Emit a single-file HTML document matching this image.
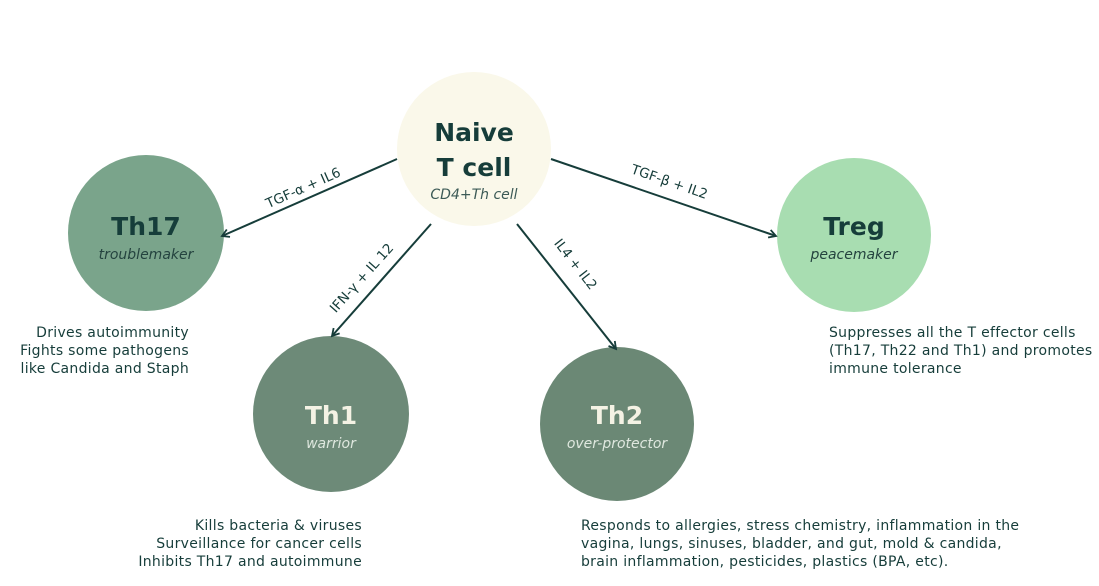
<!DOCTYPE html>
<html><head><meta charset="utf-8"><style>
body{margin:0;background:#fff;}
svg{display:block;font-family:"DejaVu Sans","Liberation Sans",sans-serif;}
</style></head><body>
<svg width="1099" height="586" viewBox="0 0 1099 586" xmlns="http://www.w3.org/2000/svg">
<defs><marker id="a" markerWidth="10" markerHeight="10" refX="8" refY="5" orient="auto" markerUnits="userSpaceOnUse"><path d="M1,1 L8,5 L1,9" fill="none" stroke="#163d3a" stroke-width="1.8"/></marker></defs>
<circle cx="474" cy="149" r="77" fill="#faf8ea"/>
<circle cx="146" cy="233" r="78" fill="#7aa48b"/>
<circle cx="331" cy="414" r="78" fill="#6d8a78"/>
<circle cx="617" cy="424" r="77" fill="#6b8875"/>
<circle cx="854" cy="235" r="77" fill="#a8ddb1"/>
<g stroke="#163d3a" stroke-width="2" fill="none" marker-end="url(#a)">
<line x1="397" y1="159" x2="222" y2="236"/>
<line x1="431" y1="224" x2="332" y2="336"/>
<line x1="517" y1="224" x2="616" y2="349"/>
<line x1="551" y1="159" x2="776" y2="236"/>
</g>
<g fill="#163d3a" font-size="13.5">
<text transform="translate(305,192) rotate(-24)" text-anchor="middle">TGF-α + IL6</text>
<text transform="translate(365,281) rotate(-48)" text-anchor="middle">IFN-γ + IL 12</text>
<text transform="translate(572,267) rotate(52)" text-anchor="middle">IL4 + IL2</text>
<text transform="translate(668,186) rotate(19)" text-anchor="middle">TGF-β + IL2</text>
</g>
<g text-anchor="middle" font-weight="bold" font-size="25">
<text x="474" y="141" fill="#163d3a">Naive</text>
<text x="474" y="176" fill="#163d3a">T cell</text>
<text x="146" y="235" fill="#163d3a">Th17</text>
<text x="331" y="424" fill="#f4f2e4">Th1</text>
<text x="617" y="424" fill="#f4f2e4">Th2</text>
<text x="854" y="235" fill="#163d3a">Treg</text>
</g>
<g text-anchor="middle" font-style="italic" font-size="14">
<text x="474" y="199" fill="#3c5a56">CD4+Th cell</text>
<text x="146" y="259" fill="#24433f">troublemaker</text>
<text x="331" y="448" fill="#dfe8df">warrior</text>
<text x="617" y="448" fill="#dfe8df">over-protector</text>
<text x="854" y="259" fill="#24433f">peacemaker</text>
</g>
<g fill="#163d3a" font-size="14" letter-spacing="0.3">
<text text-anchor="end" x="189" y="337">Drives autoimmunity</text>
<text text-anchor="end" x="189" y="355">Fights some pathogens</text>
<text text-anchor="end" x="189" y="373">like Candida and Staph</text>
<text text-anchor="end" x="362" y="530">Kills bacteria &amp; viruses</text>
<text text-anchor="end" x="362" y="548">Surveillance for cancer cells</text>
<text text-anchor="end" x="362" y="566">Inhibits Th17 and autoimmune</text>
<text x="581" y="530">Responds to allergies, stress chemistry, inflammation in the</text>
<text x="581" y="548">vagina, lungs, sinuses, bladder, and gut, mold &amp; candida,</text>
<text x="581" y="566">brain inflammation, pesticides, plastics (BPA, etc).</text>
<text x="829" y="337">Suppresses all the T effector cells</text>
<text x="829" y="355">(Th17, Th22 and Th1) and promotes</text>
<text x="829" y="373">immune tolerance</text>
</g>
</svg>
</body></html>
